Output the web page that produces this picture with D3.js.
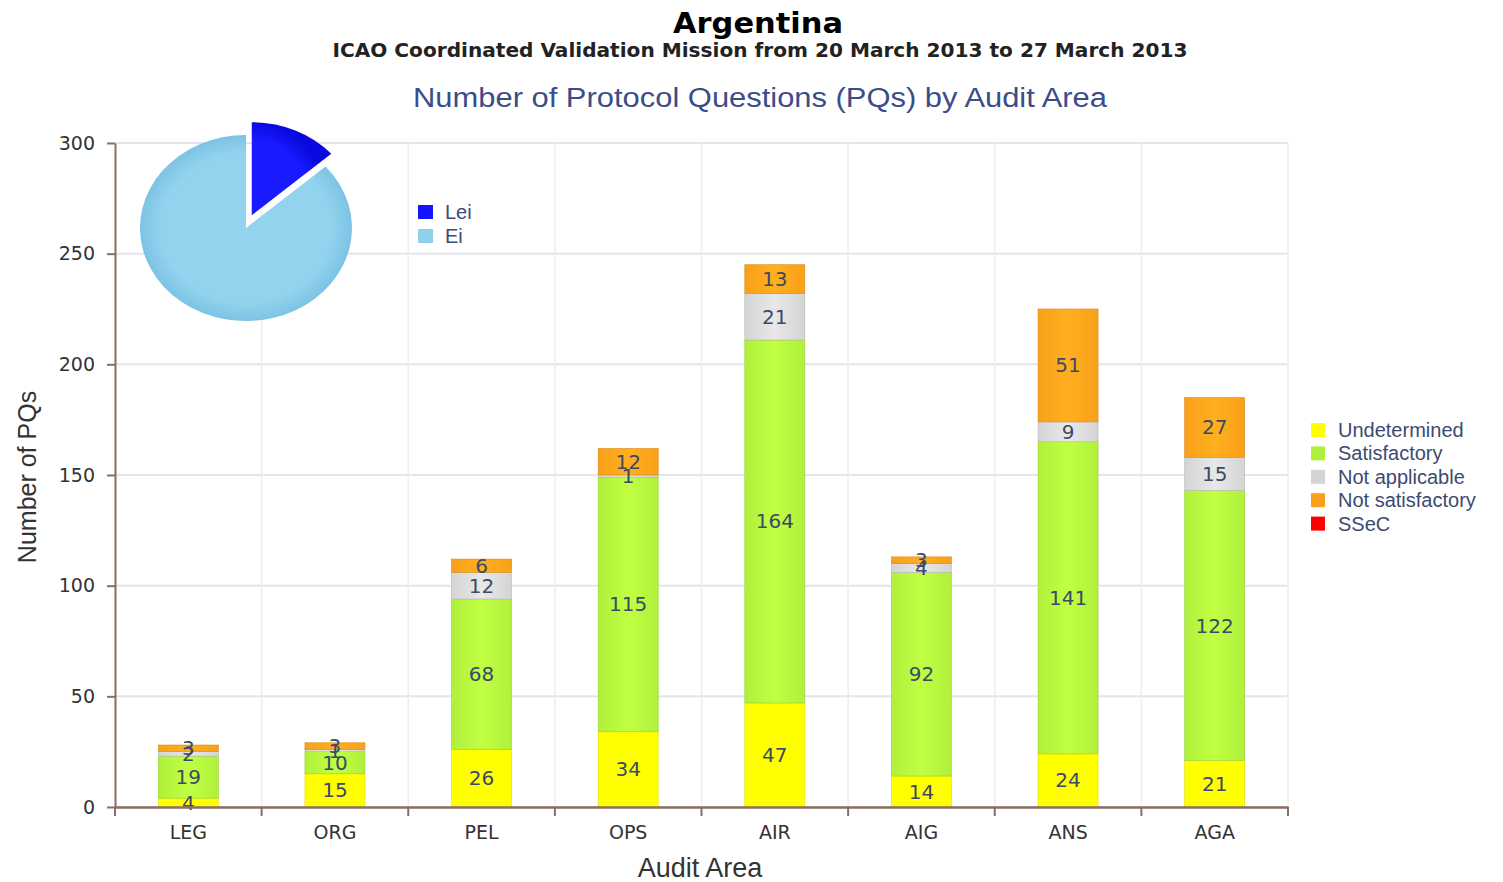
<!DOCTYPE html>
<html><head><meta charset="utf-8">
<script src="https://cdn.jsdelivr.net/npm/d3@7"></script>
<style>body{margin:0;background:#fff}svg{display:block}</style>
</head><body><svg id="c" width="1503" height="882"></svg>
<script>
const categories = ["LEG","ORG","PEL","OPS","AIR","AIG","ANS","AGA"];
const undetermined   = [4,15,26,34,47,14,24,21];
const satisfactory   = [19,10,68,115,164,92,141,122];
const notApplicable  = [2,1,12,1,21,4,9,15];
const notSatisfactory= [3,3,6,12,13,3,51,27];
const ssec           = [0,0,0,0,0,0,0,0];
const seriesNames = ["Undetermined","Satisfactory","Not applicable","Not satisfactory","SSeC"];
const seriesColors = ["#ffff00","#b0f03c","#d4d4d4","#f9a01b","#ff0000"];
const yTicks = [0,50,100,150,200,250,300];
const pieLabels = ["Lei","Ei"];
const pieValues = [13.5,86.5];
const pieColors = ["#1414ff","#8ed0ec"];

const svg = d3.select("#c");
const defs = svg.append("defs");
const M = {l:115, r:1288, t:143, b:807};
const x = d3.scaleBand().domain(categories).range([M.l, M.r]).paddingInner(0).paddingOuter(0);
const y = d3.scaleLinear().domain([0,300]).range([M.b, M.t]);

// gradients for bars
seriesColors.forEach((c,i)=>{
  const g = defs.append("linearGradient").attr("id","g"+i).attr("x1","0").attr("x2","1");
  const lc = d3.color(c).brighter(0.25);
  g.append("stop").attr("offset","0%").attr("stop-color",c);
  g.append("stop").attr("offset","50%").attr("stop-color",lc.formatHex());
  g.append("stop").attr("offset","100%").attr("stop-color",c);
});

// gridlines
const grid = svg.append("g");
yTicks.forEach(t=>{
  grid.append("line").attr("x1",M.l).attr("x2",M.r).attr("y1",y(t)).attr("y2",y(t))
    .attr("stroke","#e4e4ee").attr("stroke-width",2);
});
categories.forEach((c,i)=>{
  const xx = x(c)+x.bandwidth();
  grid.append("line").attr("x1",xx).attr("x2",xx).attr("y1",M.t).attr("y2",M.b)
    .attr("stroke","#ececf2").attr("stroke-width",1.5);
});

// stacked bars
const rows = categories.map((c,i)=>({cat:c, Undetermined:undetermined[i], Satisfactory:satisfactory[i],
  "Not applicable":notApplicable[i], "Not satisfactory":notSatisfactory[i], SSeC:ssec[i]}));
const stack = d3.stack().keys(seriesNames)(rows);
const bw = 60;
stack.forEach((layer,si)=>{
  const g = svg.append("g");
  layer.forEach((d)=>{
    const v = d[1]-d[0];
    if (v<=0) return;
    const cx = x(d.data.cat)+x.bandwidth()/2;
    g.append("rect").attr("x",cx-bw/2).attr("width",bw)
      .attr("y",y(d[1])).attr("height",y(d[0])-y(d[1]))
      .attr("fill","url(#g"+si+")")
      .attr("stroke",d3.color(seriesColors[si]).darker(0.4)).attr("stroke-width",0.6);
  });
});
stack.forEach((layer,si)=>{
  layer.forEach((d)=>{
    const v = d[1]-d[0];
    if (v<=0) return;
    const cx = x(d.data.cat)+x.bandwidth()/2;
    svg.append("text").attr("x",cx).attr("y",(y(d[0])+y(d[1]))/2+7)
      .attr("text-anchor","middle").attr("font-family","DejaVu Sans, Verdana, sans-serif")
      .attr("font-size",20).attr("fill","#3c4a66").text(v);
  });
});

// axes
const axisCol = "#8a6e62";
const xAxis = svg.append("g").attr("transform",`translate(0,${M.b})`)
  .call(d3.axisBottom(x).tickSize(0).tickPadding(19));
xAxis.select(".domain").attr("stroke",axisCol).attr("stroke-width",2.5);
xAxis.selectAll("text").attr("font-family","DejaVu Sans, Verdana, sans-serif").attr("font-size",19).attr("fill","#333");
[M.l].concat(categories.map(c=>x(c)+x.bandwidth())).forEach(xx=>{
  svg.append("line").attr("x1",xx).attr("x2",xx).attr("y1",M.b).attr("y2",M.b+9).attr("stroke",axisCol).attr("stroke-width",2);
});
const yAxis = svg.append("g").attr("transform",`translate(${M.l},0)`)
  .call(d3.axisLeft(y).tickValues(yTicks).tickSize(8).tickPadding(12).tickSizeOuter(0));
yAxis.select(".domain").attr("stroke",axisCol).attr("stroke-width",2);
yAxis.selectAll(".tick line").attr("stroke",axisCol).attr("stroke-width",2);
yAxis.selectAll("text").attr("font-family","DejaVu Sans, Verdana, sans-serif").attr("font-size",19).attr("fill","#333");

// titles
svg.append("text").attr("x",758).attr("y",33).attr("text-anchor","middle")
  .attr("font-family","DejaVu Sans, Verdana, sans-serif").attr("font-weight","bold").attr("font-size",29)
  .attr("textLength",170).attr("lengthAdjust","spacingAndGlyphs").attr("fill","#000").text("Argentina");
svg.append("text").attr("x",760).attr("y",57).attr("text-anchor","middle")
  .attr("font-family","DejaVu Sans, Verdana, sans-serif").attr("font-size",20).attr("font-weight","600")
  .attr("textLength",855).attr("lengthAdjust","spacingAndGlyphs").attr("fill","#222")
  .text("ICAO Coordinated Validation Mission from 20 March 2013 to 27 March 2013");
svg.append("text").attr("x",760).attr("y",107).attr("text-anchor","middle")
  .attr("font-family","Liberation Sans, Arial, sans-serif").attr("font-size",27)
  .attr("textLength",694).attr("lengthAdjust","spacingAndGlyphs").attr("fill","#3a4d8a")
  .text("Number of Protocol Questions (PQs) by Audit Area");
svg.append("text").attr("transform","translate(36,477) rotate(-90)").attr("text-anchor","middle")
  .attr("font-family","Liberation Sans, Arial, sans-serif").attr("font-size",25).attr("fill","#333")
  .text("Number of PQs");
svg.append("text").attr("x",700).attr("y",877).attr("text-anchor","middle")
  .attr("font-family","Liberation Sans, Arial, sans-serif").attr("font-size",27).attr("fill","#333")
  .text("Audit Area");

// legend
const lg = svg.append("g");
seriesNames.forEach((n,i)=>{
  const yy = 430 + i*23.4;
  lg.append("rect").attr("x",1311).attr("y",yy-7).attr("width",14).attr("height",14).attr("fill",seriesColors[i]);
  lg.append("text").attr("x",1338).attr("y",yy+7).attr("font-family","Liberation Sans, Arial, sans-serif")
    .attr("font-size",20).attr("fill","#3c4a72").text(n);
});

// pie
const rg = defs.append("radialGradient").attr("id","pg").attr("cx","50%").attr("cy","50%").attr("r","50%");
rg.append("stop").attr("offset","80%").attr("stop-color","#93d3ee");
rg.append("stop").attr("offset","100%").attr("stop-color","#7cc3e4");
const rg2 = defs.append("radialGradient").attr("id","pg2").attr("cx","0%").attr("cy","100%").attr("r","100%");
rg2.append("stop").attr("offset","80%").attr("stop-color","#1a1aff");
rg2.append("stop").attr("offset","100%").attr("stop-color","#0a0ae0");
const pieData = d3.pie().sort(null)(pieValues);
const arc = d3.arc().innerRadius(0).outerRadius(1);
const pcx = 246, pcy = 228, rx = 106, ry = 93;
const pg = svg.append("g");
pieData.forEach((d,i)=>{
  const mid = (d.startAngle+d.endAngle)/2;
  const off = i===0 ? 14 : 0;
  const dx = Math.sin(mid)*off, dy = -Math.cos(mid)*off;
  pg.append("path").attr("d",arc(d))
    .attr("transform",`translate(${pcx+dx},${pcy+dy}) scale(${rx},${ry})`)
    .attr("fill", i===0 ? "url(#pg2)" : "url(#pg)");
});
pieLabels.forEach((n,i)=>{
  const yy = 212 + i*24;
  pg.append("rect").attr("x",418).attr("y",yy-7).attr("width",15).attr("height",14).attr("fill",pieColors[i]);
  pg.append("text").attr("x",445).attr("y",yy+7).attr("font-family","Liberation Sans, Arial, sans-serif")
    .attr("font-size",20).attr("fill","#3c4a72").text(n);
});
</script></body></html>
